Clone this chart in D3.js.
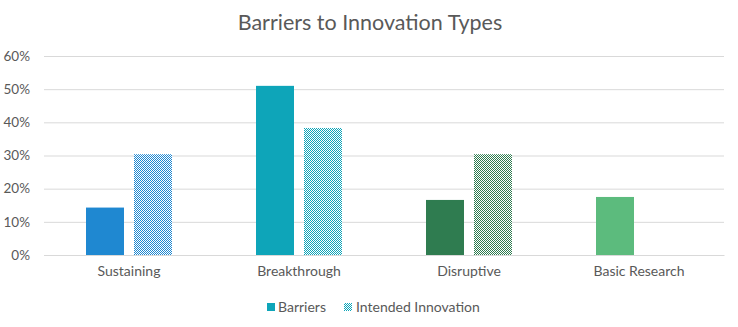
<!DOCTYPE html>
<html><head><meta charset="utf-8">
<script src="https://cdn.jsdelivr.net/npm/d3@7"></script>
<style>body{margin:0;background:#fff}svg{display:block}</style>
</head><body>
<svg id="c" width="738" height="327"></svg>
<script>
const categories = ["Sustaining", "Breakthrough", "Disruptive", "Basic Research"];
const barriers = [0.143, 0.51, 0.166, 0.175];
const intended = [0.304, 0.383, 0.304, null];
const colors = ["#1f88d1", "#0ea5b9", "#2f7c50", "#5cbb7d"];
const yTicks = [0, 0.1, 0.2, 0.3, 0.4, 0.5, 0.6];
const seriesNames = ["Barriers", "Intended Innovation"];

const svg = d3.select("#c");
const font = "Lato, 'Open Sans', sans-serif";
const x = d3.scaleBand().domain(categories).range([44, 724]);
const y = d3.scaleLinear().domain([0, 0.6]).range([255, 56]);

const defs = svg.append("defs");
colors.forEach((c, i) => {
  const p = defs.append("pattern").attr("id", "pat" + i).attr("width", 2).attr("height", 2)
    .attr("patternUnits", "userSpaceOnUse");
  p.append("rect").attr("width", 2).attr("height", 2).attr("fill", "#fff");
  p.append("rect").attr("width", 1).attr("height", 1).attr("fill", c);
  p.append("rect").attr("x", 1).attr("y", 1).attr("width", 1).attr("height", 1).attr("fill", c);
});

svg.append("text").attr("x", 370).attr("y", 30).attr("text-anchor", "middle")
  .attr("font-family", font).attr("font-size", 21.5).attr("fill", "#595959")
  .text("Barriers to Innovation Types");

const yAxis = d3.axisLeft(y).tickValues(yTicks).tickFormat(d3.format(".0%")).tickSize(-680);
const gy = svg.append("g").attr("transform", "translate(44,0)").call(yAxis);
gy.select(".domain").remove();
gy.selectAll(".tick line").attr("stroke", "#d9d9d9").attr("stroke-width", 1);
gy.selectAll(".tick text").attr("x", -14).attr("font-family", font).attr("font-size", 13.5).attr("fill", "#595959");

const xAxis = d3.axisBottom(x).tickSize(0).tickPadding(11);
const gx = svg.append("g").attr("transform", "translate(0,255)").call(xAxis);
gx.select(".domain").attr("stroke", "#d9d9d9");
gx.selectAll(".tick text").attr("font-family", font).attr("font-size", 14).attr("fill", "#595959");

const bw = 38, gap = 10;
svg.append("g").selectAll("rect").data(categories).join("rect")
  .attr("x", d => x(d) + x.bandwidth() / 2 - bw - gap / 2)
  .attr("y", (d, i) => y(barriers[i]))
  .attr("width", bw)
  .attr("height", (d, i) => y(0) - y(barriers[i]))
  .attr("fill", (d, i) => colors[i]);

svg.append("g").selectAll("rect").data(categories.filter((d, i) => intended[i] != null)).join("rect")
  .attr("x", d => x(d) + x.bandwidth() / 2 + gap / 2)
  .attr("y", d => y(intended[categories.indexOf(d)]))
  .attr("width", bw)
  .attr("height", d => y(0) - y(intended[categories.indexOf(d)]))
  .attr("fill", d => "url(#pat" + categories.indexOf(d) + ")");

// legend
const lg = svg.append("g");
lg.append("rect").attr("x", 267).attr("y", 303).attr("width", 8).attr("height", 8).attr("fill", colors[1]);
lg.append("text").attr("x", 278).attr("y", 312).attr("font-family", font).attr("font-size", 14).attr("fill", "#595959").text(seriesNames[0]);
lg.append("rect").attr("x", 344).attr("y", 303).attr("width", 8).attr("height", 8).attr("fill", "url(#pat1)");
lg.append("text").attr("x", 356).attr("y", 312).attr("font-family", font).attr("font-size", 14).attr("fill", "#595959").text(seriesNames[1]);
</script>
</body></html>
